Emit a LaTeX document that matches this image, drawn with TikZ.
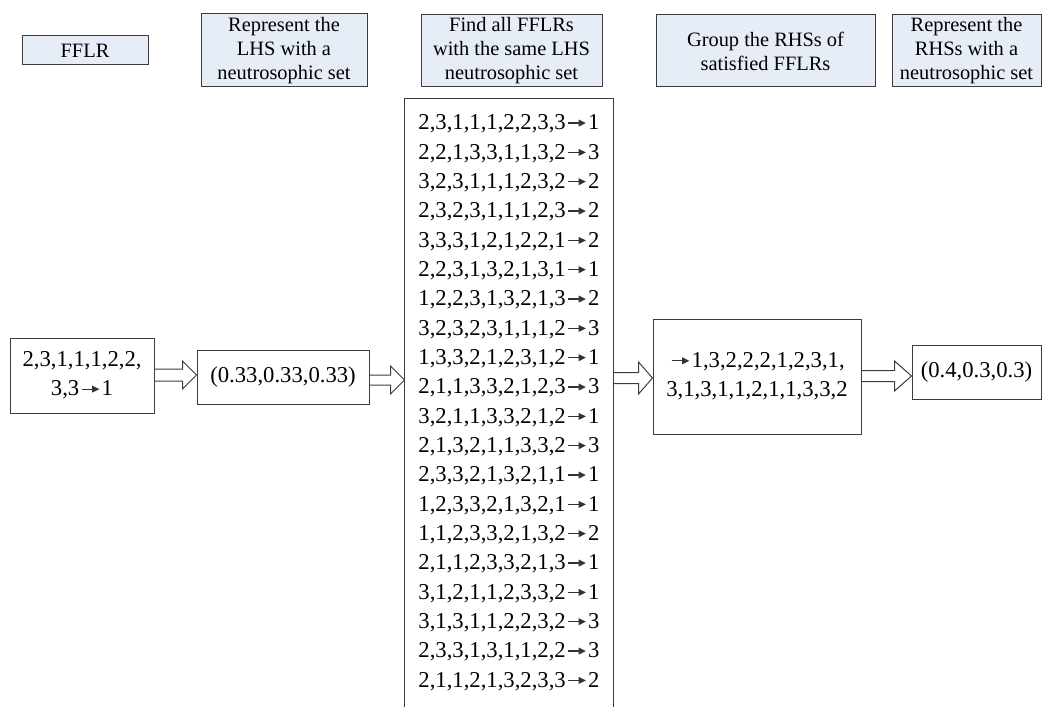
\documentclass[tikz,border=0pt]{standalone}
\usepackage{fontspec}
\setmainfont{Liberation Serif}
\usetikzlibrary{arrows.meta,calc}
\definecolor{hdrfill}{RGB}{231,237,246}
\definecolor{edgecol}{RGB}{60,60,60}
\newcommand\rarr{\kern0.08em\tikz[baseline=-0.3em]\draw[line width=0.05em,color=black!80,-{Triangle[length=0.32em,width=0.3em]}](0,0)--(0.78em,0);\kern0.08em}
\newcommand\blkarrow[6]{%
  \draw[blk] ($(#1.east|-0,#3)+(0,-#4)$) -- ($(#2.west|-0,#3)+(-#6,-#4)$)
    -- ($(#2.west|-0,#3)+(-#6,-#5)$) -- (#2.west|-0,#3)
    -- ($(#2.west|-0,#3)+(-#6,#5)$) -- ($(#2.west|-0,#3)+(-#6,#4)$)
    -- ($(#1.east|-0,#3)+(0,#4)$);}
\tikzset{
  hdr/.style={draw=edgecol, line width=0.75pt, fill=hdrfill, inner sep=0pt, align=center,
    font=\fontsize{15.3}{18}\selectfont},
  databox/.style={draw=edgecol, line width=0.75pt, inner sep=0pt, align=center,
    font=\fontsize{17}{22}\selectfont},
  blk/.style={draw=edgecol, line width=0.75pt},
  linestyle/.style={draw=edgecol, line width=0.75pt}
}
\begin{document}
\begin{tikzpicture}[x=0.75pt,y=-0.75pt]
\useasboundingbox (0,0) rectangle (1044,706);
% header boxes
\node[hdr, minimum width=94.5pt, minimum height=21.75pt] (hfflr) at (85,50.5) {FFLR};
\node[hdr, minimum width=124.5pt, minimum height=54.75pt] (hlhs) at (284,50.5) {Represent the\\LHS with a\\neutrosophic set};
\node[hdr, minimum width=135.75pt, minimum height=54pt] (hfind) at (511.5,51) {Find all FFLRs\\with the same LHS\\neutrosophic set};
\node[hdr, minimum width=164.25pt, minimum height=54pt] (hgroup) at (765.5,51) {Group the RHSs of\\satisfied FFLRs};
\node[hdr, minimum width=111.75pt, minimum height=54pt] (hrhs) at (966.5,51) {Represent the\\RHSs with a\\neutrosophic set};
% data boxes
\node[databox, minimum width=108pt, minimum height=56.25pt] (in) at (82,375.5) {2,3,1,1,1,2,2,\\3,3\rarr1};
\node[databox, minimum width=129pt, minimum height=40.5pt] (lhsset) at (283,377) {(0.33,0.33,0.33)};
\node[databox, draw=none, anchor=north, inner ysep=11.5pt, minimum width=156pt] (list) at (509,99) {%
2,3,1,1,1,2,2,3,3\rarr1\\
2,2,1,3,3,1,1,3,2\rarr3\\
3,2,3,1,1,1,2,3,2\rarr2\\
2,3,2,3,1,1,1,2,3\rarr2\\
3,3,3,1,2,1,2,2,1\rarr2\\
2,2,3,1,3,2,1,3,1\rarr1\\
1,2,2,3,1,3,2,1,3\rarr2\\
3,2,3,2,3,1,1,1,2\rarr3\\
1,3,3,2,1,2,3,1,2\rarr1\\
2,1,1,3,3,2,1,2,3\rarr3\\
3,2,1,1,3,3,2,1,2\rarr1\\
2,1,3,2,1,1,3,3,2\rarr3\\
2,3,3,2,1,3,2,1,1\rarr1\\
1,2,3,3,2,1,3,2,1\rarr1\\
1,1,2,3,3,2,1,3,2\rarr2\\
2,1,1,2,3,3,2,1,3\rarr1\\
3,1,2,1,1,2,3,3,2\rarr1\\
3,1,3,1,1,2,2,3,2\rarr3\\
2,3,3,1,3,1,1,2,2\rarr3\\
2,1,1,2,1,3,2,3,3\rarr2};
\draw[linestyle] (list.south west) -- (list.north west) -- (list.north east) -- (list.south east);
\node[databox, minimum width=156pt, minimum height=86.25pt] (group) at (757,376.5) {\rarr1,3,2,2,2,1,2,3,1,\\3,1,3,1,1,2,1,1,3,3,2};
\node[databox, minimum width=96.75pt, minimum height=40.5pt] (rhsset) at (976.5,372) {(0.4,0.3,0.3)};
% block arrows
\blkarrow{in}{lhsset}{375}{6}{14}{14}
\blkarrow{lhsset}{list}{380}{5}{14}{14}
\blkarrow{list}{group}{378}{5.5}{16}{14}
\blkarrow{group}{rhsset}{376}{5.5}{15}{17}
\end{tikzpicture}
\end{document}
